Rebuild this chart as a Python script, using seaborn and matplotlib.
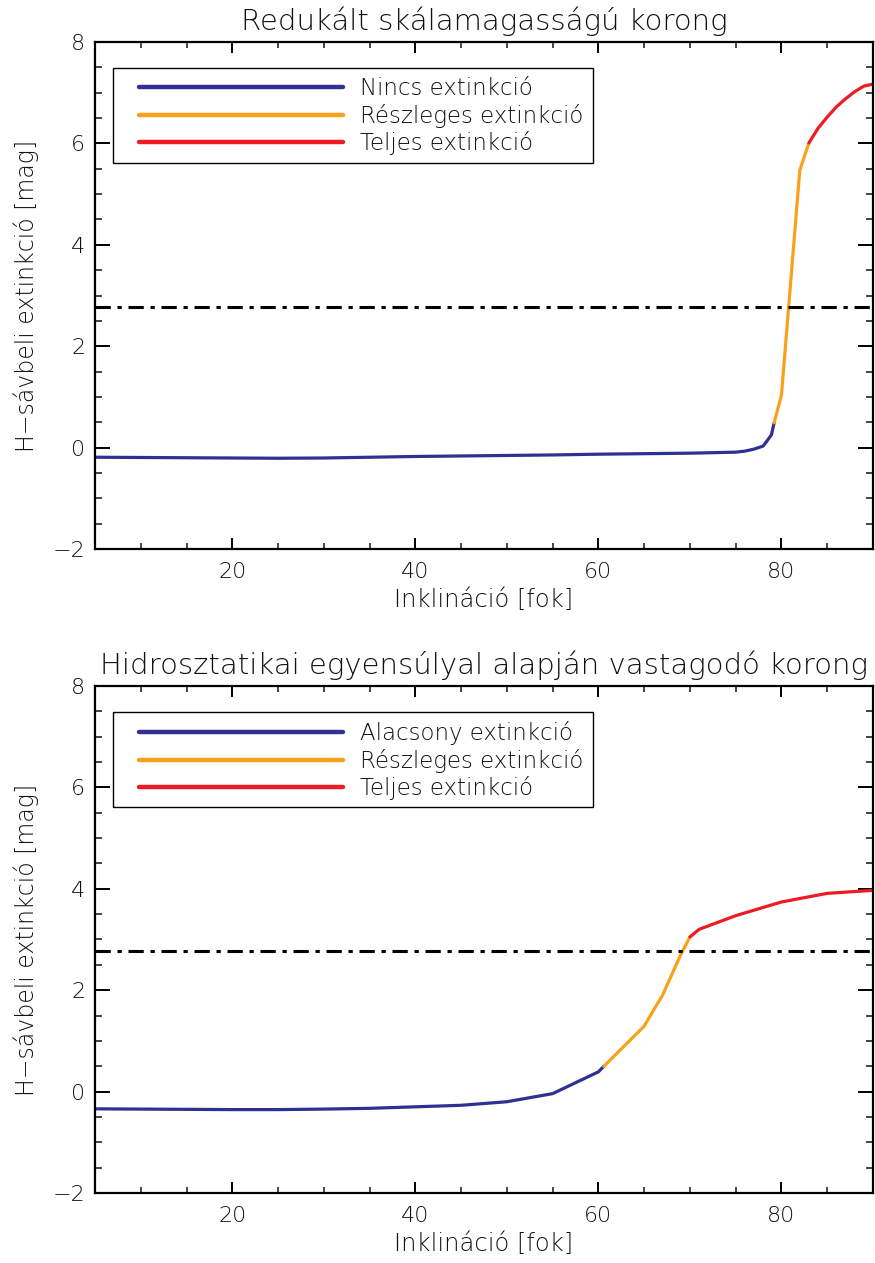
import matplotlib
matplotlib.use("Agg")
import matplotlib.pyplot as plt
from matplotlib.lines import Line2D
from matplotlib.patches import Rectangle
from matplotlib.ticker import MultipleLocator
import seaborn as sns

sns.set_theme(style="white")
plt.rcParams["font.family"] = ["DejaVu Sans"]
plt.rcParams["font.weight"] = "light"
plt.rcParams["axes.titleweight"] = "light"
plt.rcParams["axes.labelweight"] = "light"

# Reduced scale-height disk: inclination [deg] vs. H-band extinction [mag]
top_low_x = [5, 10, 15, 20, 25, 30, 35, 40, 45, 50, 55, 60, 65, 70, 75, 76, 77, 78, 78.9, 79.2]
top_low_y = [-0.19, -0.195, -0.20, -0.205, -0.21, -0.205, -0.19, -0.175, -0.165, -0.155,
             -0.145, -0.13, -0.12, -0.11, -0.09, -0.07, -0.03, 0.03, 0.25, 0.49]
top_mid_x = [79.2, 80, 81, 82, 83]
top_mid_y = [0.49, 1.04, 3.25, 5.47, 6.01]
top_high_x = [83, 84, 85, 86, 87, 88, 89, 90]
top_high_y = [6.01, 6.30, 6.52, 6.72, 6.88, 7.02, 7.13, 7.17]

# Hydrostatic-equilibrium thickened disk
bot_low_x = [5, 10, 15, 20, 25, 30, 35, 40, 45, 50, 55, 60, 60.6]
bot_low_y = [-0.34, -0.345, -0.35, -0.355, -0.355, -0.345, -0.33, -0.30, -0.27,
             -0.20, -0.04, 0.39, 0.50]
bot_mid_x = [60.6, 65, 66, 67, 68, 69, 70]
bot_mid_y = [0.50, 1.29, 1.60, 1.90, 2.30, 2.70, 3.05]
bot_high_x = [70, 71, 75, 80, 85, 90]
bot_high_y = [3.05, 3.20, 3.47, 3.74, 3.91, 3.97]

threshold = 2.77

titles = ["Redukált skálamagasságú korong",
          "Hidrosztatikai egyensúlyal alapján vastagodó korong"]
legend_labels = [
    ["Nincs extinkció", "Részleges extinkció", "Teljes extinkció"],
    ["Alacsony extinkció", "Részleges extinkció", "Teljes extinkció"],
]
xlabel = "Inklináció [fok]"
ylabel = "H\u2212sávbeli extinkció [mag]"

colors = ["#2e3192", "#f9a11b", "#ed1c24"]
text_color = "#111111"

panels = [
    [(top_low_x, top_low_y), (top_mid_x, top_mid_y), (top_high_x, top_high_y)],
    [(bot_low_x, bot_low_y), (bot_mid_x, bot_mid_y), (bot_high_x, bot_high_y)],
]

fig = plt.figure(figsize=(8.75, 12.63), dpi=100)
axes_rects = [
    [95 / 875, 1 - 549 / 1263, 778 / 875, 507 / 1263],
    [95 / 875, 1 - 1193 / 1263, 778 / 875, 507 / 1263],
]

for rect, segs, title, labels in zip(axes_rects, panels, titles, legend_labels):
    ax = fig.add_axes(rect)
    for (xs, ys), c in zip(segs, colors):
        sns.lineplot(x=xs, y=ys, color=c, linewidth=2.3, ax=ax, sort=False,
                     estimator=None)
    ax.axhline(threshold, color="black", linewidth=2.2,
               dashes=(5, 2.2, 1.4, 2.2))

    ax.set_xlim(5, 90)
    ax.set_ylim(-2, 8)
    ax.xaxis.set_major_locator(MultipleLocator(20))
    ax.xaxis.set_minor_locator(MultipleLocator(5))
    ax.yaxis.set_major_locator(MultipleLocator(2))
    ax.yaxis.set_minor_locator(MultipleLocator(0.5))
    ax.tick_params(axis="x", which="major", direction="in", length=8, width=1.4,
                   top=True, bottom=True, labelsize=16, pad=9, colors="black",
                   labelcolor=text_color)
    ax.tick_params(axis="x", which="minor", direction="in", length=4, width=1.2,
                   top=True, bottom=True)
    ax.tick_params(axis="y", which="major", direction="in", length=11, width=1.4,
                   left=True, right=True, labelsize=16, pad=7, colors="black",
                   labelcolor=text_color)
    ax.tick_params(axis="y", which="minor", direction="in", length=5, width=1.2,
                   left=True, right=True)
    for s in ax.spines.values():
        s.set_color("black")
        s.set_linewidth(1.6)

    ax.set_title(title, fontsize=21, color=text_color, pad=9, fontweight="light")
    ax.set_xlabel(xlabel, fontsize=17.5, color=text_color, labelpad=5,
                  fontweight="light")
    ax.set_ylabel(ylabel, fontsize=17, color=text_color, labelpad=10,
                  fontweight="light")

    # legend frame drawn as its own box so the inner padding can be set freely
    ax.add_patch(Rectangle((0.0231, 0.7613), 0.6170, 0.1874, transform=ax.transAxes,
                           facecolor="white", edgecolor="black", linewidth=1.0,
                           zorder=4))
    handles = [Line2D([], [], color=c, linewidth=3.2) for c in colors]
    leg = ax.legend(handles, labels, loc="upper left", bbox_to_anchor=(0.0566, 0.930),
                    borderaxespad=0, borderpad=0, fontsize=16.5, handlelength=8.9,
                    handletextpad=0.75, labelspacing=0.15, frameon=False)
    leg.set_zorder(5)
    for t in leg.get_texts():
        t.set_color(text_color)

fig.savefig("out.png", dpi=100, facecolor="white")
